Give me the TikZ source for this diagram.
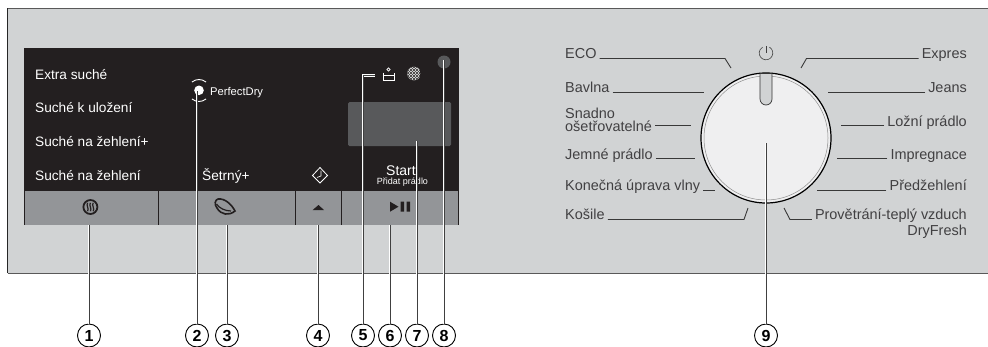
\documentclass[tikz,border=0pt]{standalone}
\usepackage{fontspec}
\setmainfont{Liberation Sans}
\definecolor{panelgrey}{HTML}{D1D3D4}
\definecolor{screenblack}{HTML}{231F20}
\definecolor{keygrey}{HTML}{939598}
\definecolor{displaygrey}{HTML}{58595B}
\definecolor{dialwhite}{HTML}{EFEFF0}
\definecolor{labelgrey}{HTML}{414042}
\tikzset{
	screentext/.style={anchor=base west,inner sep=0pt,text=white,font=\fontsize{13.65}{14}\selectfont},
	dialtext/.style={inner ysep=0pt,inner xsep=3pt,text=labelgrey,font=\fontsize{14.45}{14}\selectfont},
	callout/.style={draw,circle,line width=.9pt,fill=white,minimum size=23pt,inner sep=0pt,font=\fontsize{16}{16}\selectfont\bfseries},
	leader/.style={draw=white,double=black!75,line width=.7pt,double distance=.8pt},
	dialline/.style={draw=black!78,line width=.9pt}
}
\begin{document}
\begin{tikzpicture}[x=1pt,y=-1pt]
	\useasboundingbox (0,0) rectangle (988,346);
	\fill[panelgrey] (7.5,8) rectangle (988,273);
	\draw[black!65,line width=1pt] (988,8) -- (7.5,8);
	\draw[black!85,line width=1pt] (7.5,8) -- (7.5,273);
	\draw[black!65,line width=1pt] (7.5,273) -- (988,273);

	\fill[screenblack] (24,48) rectangle (459,225);
	\fill[keygrey] (24.5,191) rectangle (458,224.5);
	\foreach \x in {158.5,295.5,341}
		\draw[screenblack,line width=.8pt] (\x,191) -- (\x,225);
	\fill[displaygrey,rounded corners=1.5pt] (348,102) rectangle (451,146);
	\fill[displaygrey] (444,62) circle (6.5);

	\foreach \t/\y [count=\n] in {Extra suché/79,Suché k uložení/112,Suché na žehlení+/146,Suché na žehlení/180}
		\node[screentext] (S\n) at (35,\y) {\t};
	\node[screentext] (eco) at (202,180) {Šetrný+};
	\node[screentext,font=\fontsize{11.2}{12}\selectfont] (perfect) at (210,95) {PerfectDry};
	\node[screentext,anchor=base,font=\fontsize{14}{14}\selectfont] (start) at (401,175) {Start};
	\node[screentext,anchor=base,font=\fontsize{9}{9}\selectfont] (add) at (402.5,184) {Přidat prádlo};

	\fill[white] (199,90.3) circle (4.8);
	\draw[white,line width=.9pt] (199,90.5) ++(-130:11) arc (-130:-50:11) (199,90.5) ++(50:11) arc (50:130:11);

	\draw[white,line width=.7pt] (382.5,75) -- (394.5,75) (383.5,72.5) -- (383.5,80.5) -- (394,80.5) -- (394,72.5);
	\draw[white,line width=.6pt] (388.5,69.5) circle (1.6);
	\begin{scope}
		\clip (414,73.5) circle (6.8);
		\fill[white!80!black] (407,66) rectangle (421,81);
		\foreach \i in {0,...,4}
			\foreach \j in {0,...,4}
			{
				\fill[screenblack!80] (407+3*\i,66+3*\j) rectangle ++(1.5,1.5);
				\fill[screenblack!80] (408.5+3*\i,67.5+3*\j) rectangle ++(1.5,1.5);
			}
	\end{scope}

	\draw[white,line width=.8pt] (320,167.5) -- (327.5,175.5) -- (320,183) -- (312.5,175.5) -- cycle;
	\draw[white,line width=.6pt] (321,170.5) -- (321,176) -- (317,177.5);

	\draw[screenblack,line width=1.8pt] (90.4,207) circle (7);
	\foreach \x in {87.6,90.4,93.2}
		\draw[screenblack,line width=1.2pt] (\x,202.8) .. controls (\x-1.8,205.5) and (\x+1.8,208.5) .. (\x,211.2);
	\draw[screenblack,line width=1.6pt] (218,199) .. controls (225,198) and (232,205) .. (235,211) .. controls (229,216) and (221,215) .. (217,208) .. controls (214,204) and (215,200) .. (218,199);
	\draw[screenblack,line width=1.2pt] (216.5,204) .. controls (219,208) and (225,211) .. (231,211);
	\fill[screenblack] (312.7,210) -- (318.5,205) -- (324,210) -- cycle;
	\fill[screenblack] (390,201.7) -- (398.5,206.7) -- (390,211.7) -- cycle;
	\fill[screenblack] (400.7,201.7) rectangle (404,211.7) (406.7,201.7) rectangle (410,211.7);

	\filldraw[fill=dialwhite,draw=black,line width=1.2pt] (766,138) circle (65);
	\draw[black!45,line width=.5pt] (766,138) circle (62);
	\filldraw[fill=panelgrey,draw=black!80,line width=.7pt] (760,73.5) -- (760,99) arc (180:0:6) -- (772,73.5) -- cycle;
	\draw[black!75,line width=.6pt] (766,53) ++(-60:6.8) arc (-60:240:6.8);
	\draw[black!75,line width=.6pt] (766,46) -- (766,53);

	\node[dialtext,anchor=base west] (L7) at (562,118) {Snadno};
	\foreach \t/\y/\a/\b/\c/\d [count=\n] in {ECO/58.5/725/58.5/731/68,Bavlna/92.5/704/92/704/92,ošetřovatelné/131.5/691/125.5/691/125.5,Jemné prádlo/159.5/695/158/695/158,Konečná úprava vlny/190/715/190/715/190,Košile/219/744/219.5/748/208}
	{
		\node[dialtext,anchor=base west] (L\n) at (562,\y) {\t};
		\coordinate (LA\n) at (\a,\b);
		\coordinate (LB\n) at (\c,\d);
		\draw[dialline] (L\n.base east |- LA\n) -- (LA\n) -- (LB\n);
	}
	\foreach \t/\y/\a/\b/\c/\d [count=\n] in {Expres/58.5/806.5/58.5/801/68,Jeans/92.5/828/92/828/92,Ložní prádlo/126.5/841/125.5/841/125.5,Impregnace/159.5/837/158/837/158,Předžehlení/190/817/190/817/190,Provětrání-teplý vzduch/219/790/219.5/784/208}
	{
		\node[dialtext,anchor=base east] (R\n) at (970,\y) {\t};
		\coordinate (RA\n) at (\a,\b);
		\coordinate (RB\n) at (\c,\d);
		\draw[dialline] (R\n.base west |- RA\n) -- (RA\n) -- (RB\n);
	}
	\node[dialtext,anchor=base east] (R7) at (970,235) {DryFresh};

	\coordinate (E5) at (375,75.5);
	\foreach \x/\y [count=\n] in {89/225,197/91,227/225,318/225,363/75.5,390/225,417/141,444/60,766/143}
	{
		\node[callout] (N\n) at (\x,335.5) {\n};
		\coordinate (T\n) at (\x,\y);
		\ifnum\n=5
			\draw[leader] (N\n.north) -- (T\n) -- (E5);
		\else
			\draw[leader] (N\n.north) -- (T\n);
		\fi
	}
\end{tikzpicture}
\end{document}
